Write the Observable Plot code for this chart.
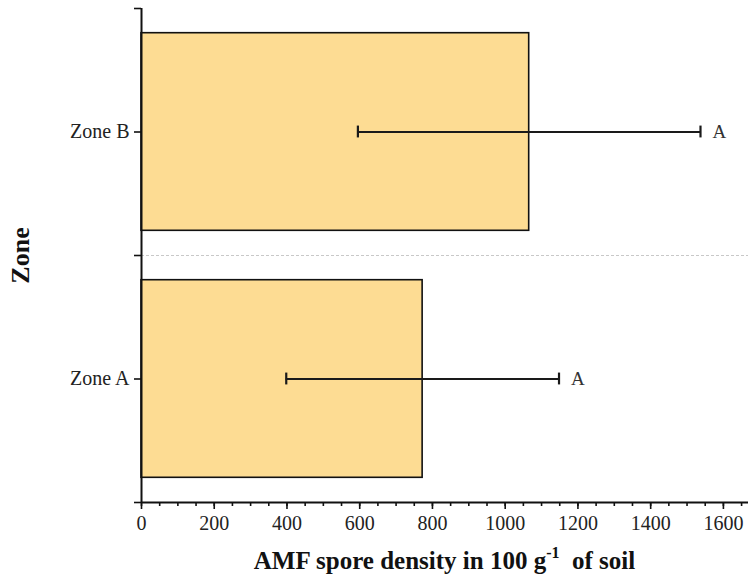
<!DOCTYPE html>
<html>
<head>
<meta charset="utf-8">
<script src="https://cdn.jsdelivr.net/npm/d3@7"></script>
<script src="https://cdn.jsdelivr.net/npm/@observablehq/plot@0.6"></script>
<style>
  body { margin: 0; background: #fff; }
  #wrap { width: 748px; height: 581px; position: relative; overflow: hidden; }
  .xlabel {
    position: absolute; left: 141px; width: 607px; top: 546px;
    text-align: center; font-family: "Liberation Serif", serif; font-weight: bold;
    font-size: 25px; color: #111; line-height: 30px;
  }
  .xlabel sup { font-size: 16px; position: relative; top: -2px; vertical-align: super; line-height: 0; }
</style>
</head>
<body>
<div id="wrap">
  <div id="chart"></div>
  <div class="xlabel">AMF spore density in 100 g<sup>-1</sup>&nbsp; of soil</div>
</div>
<script>
// Data
const zones = ["Zone A", "Zone B"];
const means = [773, 1066];
const sds = [375, 471];
const letters = ["A", "A"];
const xTicks = [0, 200, 400, 600, 800, 1000, 1200, 1400, 1600];

const data = zones.map((z, i) => ({
  zone: z, pos: i + 1, mean: means[i], sd: sds[i], letter: letters[i],
  lo: means[i] - sds[i], hi: means[i] + sds[i]
}));

const minorTicks = d3.range(0, 1651, 50);
const yTicks = d3.range(0.5, zones.length + 0.51, 0.5);
const capHalf = 0.024;

const chart = Plot.plot({
  width: 748,
  height: 535,
  marginLeft: 141,
  marginRight: 0,
  marginTop: 8,
  marginBottom: 33,
  style: { fontFamily: "Liberation Serif, serif", fontSize: "19px", color: "#222", background: "#fff" },
  x: { domain: [0, 1669] },
  y: { domain: [0.5, zones.length + 0.5] },
  marks: [
    // dashed separator between zones
    Plot.ruleY(yTicks.filter(d => !Number.isInteger(d) && d > 0.5 && d < zones.length + 0.5),
      { stroke: "#c8c8c8", strokeWidth: 1, strokeDasharray: "3,2" }),
    Plot.rectX(data, {
      x1: 0, x2: "mean", y1: d => d.pos - 0.4, y2: d => d.pos + 0.4,
      fill: "#FDDC93", stroke: "#111", strokeWidth: 1.6
    }),
    // error bars
    Plot.ruleY(data, { y: "pos", x1: "lo", x2: "hi", stroke: "#1a1a1a", strokeWidth: 2 }),
    Plot.ruleX(data, { x: "lo", y1: d => d.pos - capHalf, y2: d => d.pos + capHalf, stroke: "#1a1a1a", strokeWidth: 2.2 }),
    Plot.ruleX(data, { x: "hi", y1: d => d.pos - capHalf, y2: d => d.pos + capHalf, stroke: "#1a1a1a", strokeWidth: 2.2 }),
    Plot.text(data, { x: "hi", y: "pos", text: "letter", dx: 12, textAnchor: "start", fontSize: 19, fill: "#333" }),
    // axes
    Plot.axisX({ ticks: minorTicks, tickFormat: () => "", tickSize: 4, stroke: "#111", strokeWidth: 1.6 }),
    Plot.axisX({ ticks: xTicks, tickFormat: d => String(d), tickSize: 7, tickPadding: 6, stroke: "#111", strokeWidth: 1.6, label: null, fill: "#222", fontSize: 20 }),
    Plot.axisY({
      ticks: yTicks, tickFormat: d => Number.isInteger(d) ? zones[d - 1] : "",
      tickSize: 7, tickPadding: 5, stroke: "#111", strokeWidth: 1.6, fill: "#222", fontSize: 20,
      label: "Zone", labelAnchor: "center", labelArrow: "none", labelOffset: 131
    }),
    Plot.ruleX([0], { stroke: "#111", strokeWidth: 2 }),
    Plot.ruleY([0.5], { stroke: "#111", strokeWidth: 2 })
  ]
});
document.getElementById("chart").appendChild(chart);

// style the y-axis title
d3.select(chart).selectAll("[aria-label='y-axis label'] text")
  .style("font-weight", "bold").style("font-size", "26px").attr("fill", "#111");
</script>
</body>
</html>
